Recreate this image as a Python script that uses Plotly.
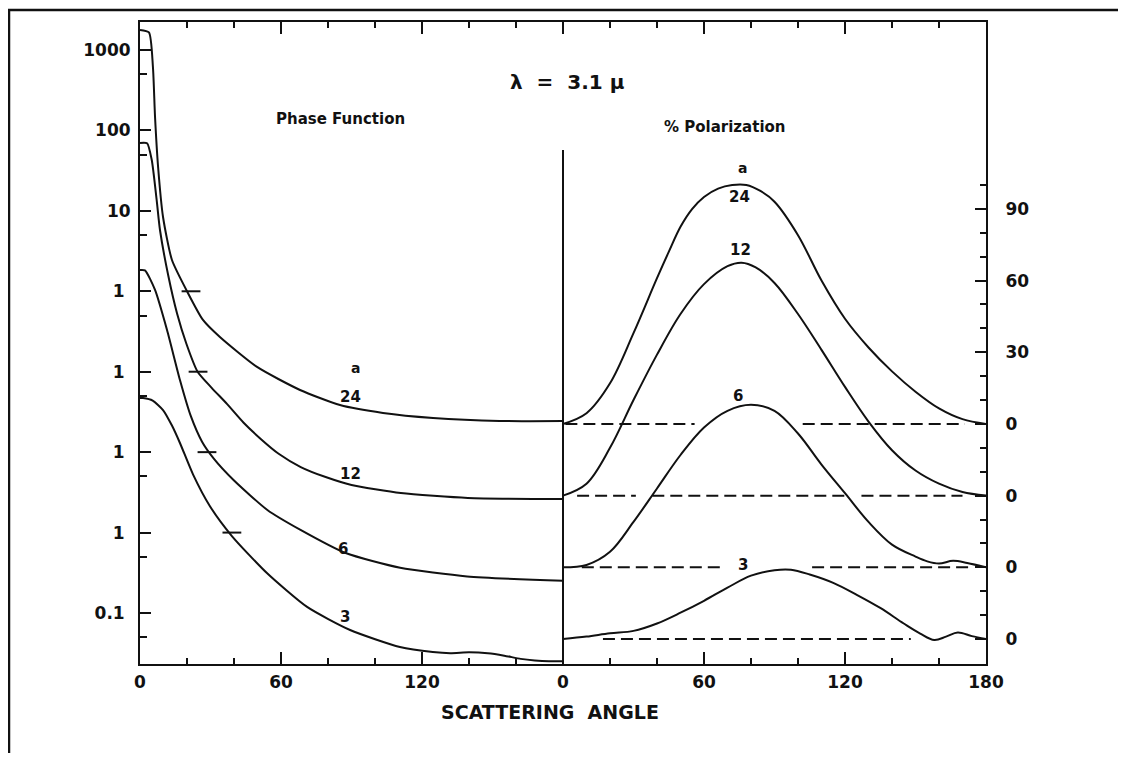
import plotly.graph_objects as go

# ---------------- data ----------------
size_params = [3, 6, 12, 24]                # "a" values
phase_decade_offset = [0, 1, 2, 3]          # each phase curve displaced by one decade
pol_offset = [0, 30, 60, 90]                # each polarization curve displaced by 30 %

# Phase function (left half): angle in degrees, value on the curve's own scale
phase_ang_3 = [0, 1.3, 5.4, 9.8, 13.6, 17, 22.6, 29.7, 39.1, 54, 71.1, 89.4, 110.6, 124.6, 132, 140, 148, 155,
               162, 168, 174, 180]
phase_val_3 = [47.1, 47.0, 43.7, 33.4, 21.4, 13.0, 5.25, 2.14, 0.906, 0.314, 0.119, 0.0615, 0.0378, 0.0327,
               0.0316, 0.0324, 0.0316, 0.0295, 0.0269, 0.0257, 0.0251, 0.0251]
phase_ang_6 = [0, 2.1, 6.4, 11.5, 17, 21.6, 26.4, 31.4, 39.8, 54.2, 68.3, 87.5, 110.7, 139.2, 180]
phase_val_6 = [184, 182, 104, 33.0, 7.89, 2.82, 1.35, 0.832, 0.451, 0.191, 0.108, 0.0557, 0.0365, 0.0285, 0.0251]
phase_ang_12 = [0, 3, 5, 7.1, 8.5, 12, 15.8, 19.7, 24.5, 30.5, 37, 44, 51.5, 59, 68.4, 79, 90, 111, 139.5, 180]
phase_val_12 = [698, 692, 429, 136, 57.8, 15.8, 5.25, 2.24, 1.0, 0.631, 0.398, 0.234, 0.145, 0.0955, 0.0653,
                0.049, 0.0391, 0.031, 0.0269, 0.0261]
phase_ang_24 = [0, 3.8, 5.5, 6.4, 7.7, 9.8, 13.6, 20.4, 26.8, 34.0, 49.8, 68.1, 85.1, 103.4, 124.7, 153, 180]
phase_val_24 = [1778, 1660, 615, 147, 35.1, 8.39, 2.45, 0.953, 0.440, 0.270, 0.1146, 0.0593, 0.0385, 0.0307,
                0.0266, 0.0244, 0.0244]
# angle at which each phase curve crosses its own "1" level (short bar drawn on the curve)
phase_unit_cross = [39.1, 28.5, 24.7, 21.7]

# Percent polarization (right half)
pol_ang_3 = [0, 10, 20, 30, 40, 50, 60, 70, 80, 90, 97, 105, 115, 125, 135, 145, 152, 158, 163, 168, 174, 180]
pol_val_3 = [0, 1.0, 2.4, 3.4, 6.5, 11, 16, 21.5, 26.5, 28.8, 29, 27, 23.5, 18.5, 13, 6.5, 2.3, -0.4, 1.0, 2.7,
             1.2, 0]
pol_ang_6 = [0, 10, 20, 30, 40, 50, 60, 70, 80, 90, 100, 110, 120, 130, 140, 150, 155, 160, 166, 172, 180]
pol_val_6 = [0, 1, 6.5, 19, 33, 47, 58.5, 65.5, 68, 65.5, 56, 43, 31, 19, 9.5, 4.5, 2.5, 1.6, 2.7, 1.8, 0]
pol_ang_12 = [0, 10, 20, 30, 40, 50, 60, 70, 76, 82, 90, 100, 110, 120, 130, 140, 150, 160, 170, 180]
pol_val_12 = [0, 5, 20, 40, 59, 76, 88.5, 96, 97.5, 95.5, 89, 76, 61, 45.5, 31, 19, 10.5, 5, 1.5, 0]
pol_ang_24 = [0, 10, 20, 30, 40, 45, 50, 55, 60, 66, 72, 78, 84, 90, 100, 110, 120, 130, 140, 150, 160, 170, 180]
pol_val_24 = [0, 4.5, 17, 38, 61, 72, 82.5, 90, 95, 98.5, 100, 100, 97.5, 93, 79, 60, 44, 32, 22, 13.5, 6.5, 2, 0]
# dashed zero-polarization reference segments (start, end angle)
zero_segments = [
    [(17, 148)],
    [(8, 68), (106, 173)],
    [(6, 31), (38, 120), (127, 170)],
    [(1, 56), (102, 171)],
]

# axis labels
x_tickvals = [0, 60, 120, 180, 240, 300, 360]
x_ticktext = ["0", "60", "120", "0", "60", "120", "180"]
left_tickvals = [0.1, 1, 10, 100, 1000, 1e4, 1e5, 1e6]
left_ticktext = ["0.1\u00a0", "1\u00a0", "1\u00a0", "1\u00a0", "1\u00a0", "10", "100", "1000"]
left_minor = [0.05, 0.5, 5, 50, 500, 5e3, 5e4, 5e5]
right_tickvals = [0, 30, 60, 90, 120, 150, 180]
right_ticktext = ["0", "0", "0", "0", "30", "60", "90"]
right_minor = [v for v in range(10, 200, 10) if v % 30 != 0]

ANGLE_SPLIT = 180

phase_ang = [phase_ang_3, phase_ang_6, phase_ang_12, phase_ang_24]
phase_val = [phase_val_3, phase_val_6, phase_val_12, phase_val_24]
pol_ang = [pol_ang_3, pol_ang_6, pol_ang_12, pol_ang_24]
pol_val = [pol_val_3, pol_val_6, pol_val_12, pol_val_24]

# ---------------- figure ----------------
BLACK = "#111111"
FONT = "DejaVu Sans"
fig = go.Figure()

for i, a in enumerate(size_params):
    k = 10 ** phase_decade_offset[i]
    fig.add_trace(go.Scatter(
        x=phase_ang[i], y=[v * k for v in phase_val[i]], mode="lines",
        line=dict(color=BLACK, width=2, shape="spline", smoothing=0.6),
        yaxis="y", showlegend=False, hoverinfo="skip"))
    c = phase_unit_cross[i]
    fig.add_trace(go.Scatter(
        x=[c - 4, c + 4], y=[k, k], mode="lines",
        line=dict(color=BLACK, width=2), yaxis="y", showlegend=False, hoverinfo="skip"))

for i, a in enumerate(size_params):
    off = pol_offset[i]
    fig.add_trace(go.Scatter(
        x=[ANGLE_SPLIT + t for t in pol_ang[i]], y=[off + p for p in pol_val[i]], mode="lines",
        line=dict(color=BLACK, width=2, shape="spline", smoothing=1.0),
        yaxis="y2", showlegend=False, hoverinfo="skip"))
    xs, ys = [], []
    for s, e in zero_segments[i]:
        xs += [ANGLE_SPLIT + s, ANGLE_SPLIT + e, None]
        ys += [off, off, None]
    fig.add_trace(go.Scatter(
        x=xs, y=ys, mode="lines", line=dict(color=BLACK, width=2, dash="12px,6px"),
        yaxis="y2", showlegend=False, hoverinfo="skip"))

# page geometry: the html body has an 8px margin, so the figure is 16px smaller
BODY = 8
PAGE_W, PAGE_H = 1126, 761
W, H = PAGE_W - 2 * BODY, PAGE_H - 2 * BODY
PLOT_L, PLOT_R, PLOT_T, PLOT_B = 140, 986, 22, 664      # plot box on the page
L, T = PLOT_L - BODY, PLOT_T - BODY
R, B = W - (PLOT_R - BODY), H - (PLOT_B - BODY)
PW, PH = PLOT_R - PLOT_L, PLOT_B - PLOT_T


def px(x):
    return (x - PLOT_L) / PW


def py(y):
    return (PLOT_B - y) / PH


tickfont = dict(family=FONT, size=17, color=BLACK, weight="bold")

fig.update_layout(
    width=W, height=H,
    margin=dict(l=L, r=R, t=T, b=B, autoexpand=False),
    paper_bgcolor="white", plot_bgcolor="white",
    xaxis=dict(range=[0, 2 * ANGLE_SPLIT], tickmode="array", tickvals=x_tickvals, ticktext=x_ticktext,
               ticks="inside", ticklen=12, tickwidth=2, tickcolor=BLACK,
               minor=dict(dtick=20, tick0=0, ticks="inside", ticklen=6, tickwidth=2, tickcolor=BLACK),
               showline=True, linewidth=2, linecolor=BLACK, mirror="ticks",
               showgrid=False, zeroline=False, tickfont=tickfont, ticklabelstandoff=2),
    yaxis=dict(type="log", range=[-1.634, 6.348], tickmode="array", tickvals=left_tickvals,
               ticktext=left_ticktext, ticks="inside", ticklen=11, tickwidth=2, tickcolor=BLACK,
               minor=dict(tickmode="array", tickvals=left_minor, ticks="inside", ticklen=7, tickwidth=2,
                          tickcolor=BLACK),
               showline=True, linewidth=2, linecolor=BLACK, showgrid=False, zeroline=False,
               tickfont=tickfont, ticklabelstandoff=4),
    yaxis2=dict(overlaying="y", side="right", range=[-10.46, 258.2], tickmode="array",
                tickvals=right_tickvals, ticktext=right_ticktext, ticks="inside", ticklen=11, tickwidth=2,
                tickcolor=BLACK,
                minor=dict(tickmode="array", tickvals=right_minor, ticks="inside", ticklen=6, tickwidth=2,
                           tickcolor=BLACK),
                showline=True, linewidth=2, linecolor=BLACK, showgrid=False, zeroline=False,
                tickfont=tickfont, ticklabelstandoff=14),
)

# divider between the two panels
fig.add_shape(type="line", xref="x", yref="paper", x0=ANGLE_SPLIT, x1=ANGLE_SPLIT, y0=0, y1=py(150),
              line=dict(color=BLACK, width=2))
# page frame (scan border)
fig.add_shape(type="path", xref="paper", yref="paper",
              path=f"M {px(9)},{py(770)} L {px(9)},{py(10)} L {px(1130)},{py(10)}",
              line=dict(color=BLACK, width=2.5))


def ann(text, x, y, size, **kw):
    fig.add_annotation(text=text, x=px(x), y=py(y), xref="paper", yref="paper", showarrow=False,
                       font=dict(family=FONT, size=size, color=BLACK, weight="bold"),
                       xanchor="center", yanchor="middle", **kw)


ann("\u03bb  =  3.1 \u03bc", 567, 82, 20)
ann("Phase Function", 340, 119, 15)
ann("% Polarization", 725, 127, 15)
ann("SCATTERING  ANGLE", 550, 712, 19)

# curve labels (left panel)
ann("a", 355, 368, 14)
ann("24", 350, 397, 15)
ann("12", 350, 474, 15)
ann("6", 343, 549, 15)
ann("3", 345, 617, 15)
# curve labels (right panel)
ann("a", 742, 168, 14)
ann("24", 739, 197, 15)
ann("12", 740, 250, 15)
ann("6", 738, 396, 15)
ann("3", 743, 565, 15)

fig.write_html("out.html")
